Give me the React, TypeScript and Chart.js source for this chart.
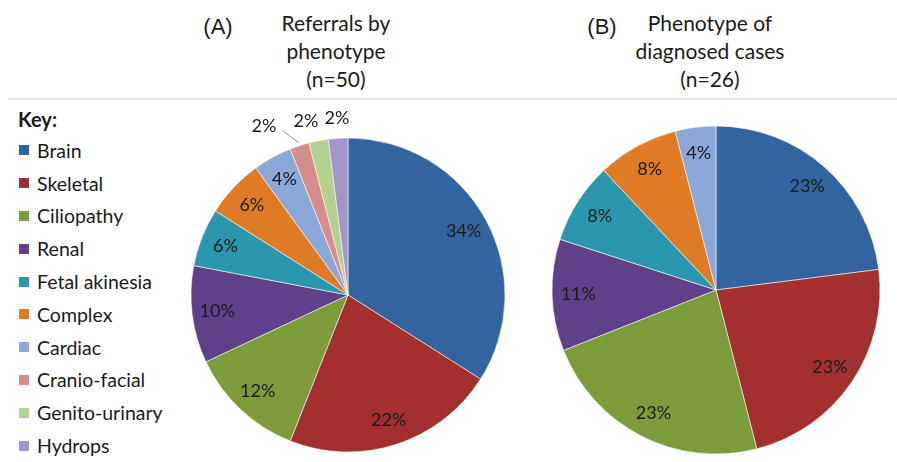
import React, { useEffect, useRef } from 'react';
import { Chart, registerables } from 'chart.js';

Chart.register(...registerables);

// ---- Data ----
const categories = [
  'Brain',
  'Skeletal',
  'Ciliopathy',
  'Renal',
  'Fetal akinesia',
  'Complex',
  'Cardiac',
  'Cranio-facial',
  'Genito-urinary',
  'Hydrops',
];
const referralsPct = [34, 22, 12, 10, 6, 6, 4, 2, 2, 2];
const diagnosedCategories = ['Brain', 'Skeletal', 'Ciliopathy', 'Renal', 'Fetal akinesia', 'Complex', 'Cardiac'];
const diagnosedPct = [23, 23, 23, 11, 8, 8, 4];
const palette = [
  '#33649F',
  '#A3302E',
  '#7C9B3B',
  '#5F4189',
  '#2B97AE',
  '#E07B25',
  '#8BA8D8',
  '#D68D8C',
  '#B3D28F',
  '#A396C6',
];
const panelA = '(A)';
const titleA = ['Referrals by', 'phenotype', '(n=50)'];
const panelB = '(B)';
const titleB = ['Phenotype of', 'diagnosed cases', '(n=26)'];
const keyTitle = 'Key:';

const FONT = "Lato, 'Open Sans', sans-serif";

const pctLabels = {
  id: 'pctLabels',
  afterDatasetsDraw(chart: any) {
    const ctx = chart.ctx;
    const meta = chart.getDatasetMeta(0);
    const data = chart.data.datasets[0].data as number[];
    ctx.save();
    ctx.font = `18px ${FONT}`;
    ctx.fillStyle = '#1b1b1b';
    ctx.textAlign = 'center';
    ctx.textBaseline = 'middle';
    const outside: any[] = [];
    meta.data.forEach((arc: any, i: number) => {
      const p = arc.getProps(['x', 'y', 'startAngle', 'endAngle', 'outerRadius'], true);
      const mid = (p.startAngle + p.endAngle) / 2;
      const v = data[i];
      if (v >= 3) {
        const rr = p.outerRadius * 0.84;
        ctx.fillText(v + '%', p.x + Math.cos(mid) * rr, p.y + Math.sin(mid) * rr);
      } else {
        const rr = p.outerRadius + 20;
        outside.push({
          v,
          mid,
          p,
          x: p.x + Math.cos(mid) * rr,
          y: p.y + Math.sin(mid) * rr,
          leader: false,
        });
      }
    });
    outside.sort((a, b) => b.x - a.x);
    for (let k = 1; k < outside.length; k++) {
      const limit = outside[k - 1].x - 31;
      if (outside[k].x > limit) {
        const shift = outside[k].x - limit;
        outside[k].x = limit;
        if (shift > 12) {
          outside[k].x -= 11;
          outside[k].leader = true;
        }
      }
    }
    outside.forEach((o) => {
      if (o.leader) {
        const er = o.p.outerRadius + 3;
        ctx.strokeStyle = '#8a8a8a';
        ctx.lineWidth = 1;
        ctx.beginPath();
        ctx.moveTo(o.x + 19, o.y + 4);
        ctx.lineTo(o.p.x + Math.cos(o.mid) * er, o.p.y + Math.sin(o.mid) * er);
        ctx.stroke();
      }
      ctx.fillText(o.v + '%', o.x, o.y);
    });
    ctx.restore();
  },
};

type PieProps = {
  labels: string[];
  values: number[];
  colors: string[];
  radius: number;
  left: number;
  top: number;
  width: number;
  height: number;
};

function Pie({ labels, values, colors, radius, left, top, width, height }: PieProps) {
  const ref = useRef<HTMLCanvasElement | null>(null);
  useEffect(() => {
    if (!ref.current) return;
    const chart = new Chart(ref.current, {
      type: 'pie',
      data: {
        labels,
        datasets: [
          {
            data: values,
            backgroundColor: colors,
            borderColor: 'rgba(255,255,255,0.55)',
            borderWidth: 1,
          },
        ],
      },
      options: {
        animation: false,
        responsive: true,
        maintainAspectRatio: false,
        events: [],
        radius,
        layout: { padding: 0 },
        plugins: {
          legend: { display: false },
          tooltip: { enabled: false },
          title: { display: false },
        },
      } as any,
      plugins: [pctLabels],
    });
    return () => chart.destroy();
  }, []);
  return (
    <div style={{ position: 'absolute', left, top, width, height }}>
      <canvas ref={ref} />
    </div>
  );
}

function Title({ panel, lines, panelX, centerX }: { panel: string; lines: string[]; panelX: number; centerX: number }) {
  return (
    <>
      <div
        style={{
          position: 'absolute',
          left: panelX - 30,
          width: 60,
          top: 12,
          textAlign: 'center',
          fontFamily: "'Liberation Sans', Arial, sans-serif",
          fontSize: 22,
          lineHeight: '29px',
          color: '#1b1b1b',
        }}
      >
        {panel}
      </div>
      <div
        style={{
          position: 'absolute',
          left: centerX - 110,
          width: 220,
          top: 9,
          textAlign: 'center',
          fontFamily: FONT,
          fontSize: 21,
          lineHeight: '28px',
          color: '#1b1b1b',
        }}
      >
        {lines.map((l, i) => (
          <div key={i}>{l}</div>
        ))}
      </div>
    </>
  );
}

export default function App() {
  return (
    <div style={{ position: 'fixed', left: 0, top: 0, width: 897, height: 462, overflow: 'hidden', background: '#fff' }}>
      <Title panel={panelA} lines={titleA} panelX={218} centerX={336} />
      <Title panel={panelB} lines={titleB} panelX={602} centerX={710} />
      <div style={{ position: 'absolute', left: 8, top: 98, width: 889, height: 2, background: '#e3e4ec' }} />
      <div style={{ position: 'absolute', left: 18, top: 104, fontFamily: FONT, color: '#1b1b1b' }}>
        <div style={{ fontWeight: 700, fontSize: 20, height: 30, lineHeight: '30px' }}>{keyTitle}</div>
        {categories.map((c, i) => (
          <div key={c} style={{ display: 'flex', alignItems: 'center', height: 32.8, fontSize: 19.5 }}>
            <span style={{ display: 'inline-block', width: 10, height: 10, background: palette[i], marginLeft: 1, marginRight: 8 }} />
            <span>{c}</span>
          </div>
        ))}
      </div>
      <Pie labels={categories} values={referralsPct} colors={palette} radius={157} left={168} top={100} width={360} height={390} />
      <Pie
        labels={diagnosedCategories}
        values={diagnosedPct}
        colors={palette.slice(0, diagnosedPct.length)}
        radius={164}
        left={541}
        top={125}
        width={350}
        height={330}
      />
    </div>
  );
}
